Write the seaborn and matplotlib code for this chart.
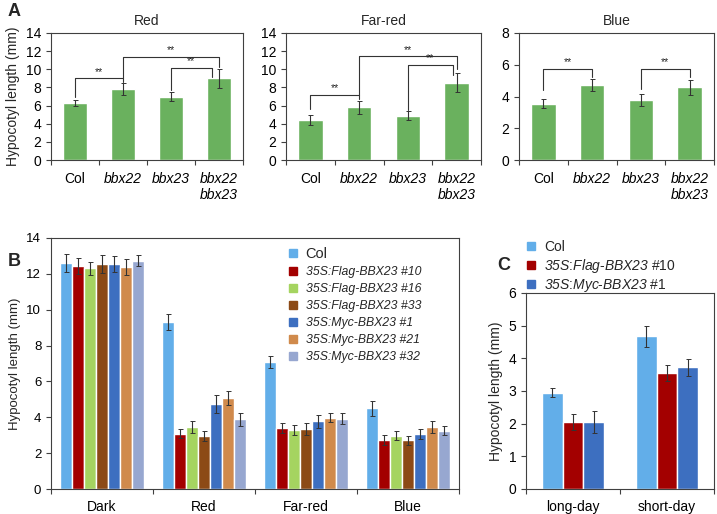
import numpy as np
import pandas as pd
import seaborn as sns
import matplotlib.pyplot as plt
from matplotlib.lines import Line2D

sns.set_style("ticks")
plt.rcParams["font.family"] = ["Liberation Sans", "DejaVu Sans"]
plt.rcParams["mathtext.fontset"] = "custom"
plt.rcParams["mathtext.it"] = "Liberation Sans:italic"
plt.rcParams["mathtext.rm"] = "Liberation Sans:italic"
plt.rcParams["axes.edgecolor"] = "#404040"
plt.rcParams["xtick.color"] = "#404040"
plt.rcParams["ytick.color"] = "#404040"
plt.rcParams["xtick.labelcolor"] = "black"
plt.rcParams["ytick.labelcolor"] = "black"

# ---- panel A data
genotypes = ["Col", "bbx22", "bbx23", "bbx22\nbbx23"]
red_len = [6.3, 7.8, 7.0, 9.0]
red_err = [0.35, 0.65, 0.5, 1.05]
farred_len = [4.45, 5.8, 4.9, 8.5]
farred_err = [0.55, 0.7, 0.45, 1.05]
blue_len = [3.55, 4.73, 3.78, 4.58]
blue_err = [0.3, 0.37, 0.35, 0.48]
# significance brackets: (x left, x right, top, left leg end, right leg end)
red_sig = [(0, 1, 9.0, 6.9, 8.6), (1, 3, 11.4, 9.0, 10.2), (2, 2.85, 10.15, 7.7, 9.1)]
farred_sig = [(0, 1, 7.2, 5.6, 6.7), (1, 3, 11.45, 7.2, 10.0), (2, 2.92, 10.5, 5.5, 9.35)]
blue_sig = [(0, 1, 5.76, 4.4, 5.2), (2, 3, 5.76, 4.45, 5.2)]

# ---- panel B data
conditions = ["Dark", "Red", "Far-red", "Blue"]
b_lines = ["Col", "35S:Flag-BBX23 #10", "35S:Flag-BBX23 #16", "35S:Flag-BBX23 #33",
           "35S:Myc-BBX23 #1", "35S:Myc-BBX23 #21", "35S:Myc-BBX23 #32"]
b_colors = ["#62AEE9", "#A30000", "#A5D460", "#8C4A16", "#3D6FC0", "#D08A4C", "#97A7D0"]
b_len = [
    [12.6, 9.32, 7.1, 4.51],
    [12.42, 3.09, 3.4, 2.72],
    [12.3, 3.46, 3.27, 2.98],
    [12.57, 2.94, 3.35, 2.72],
    [12.57, 4.75, 3.77, 3.05],
    [12.37, 5.08, 3.97, 3.46],
    [12.73, 3.88, 3.92, 3.25],
]
b_err = [
    [0.5, 0.43, 0.33, 0.42],
    [0.45, 0.26, 0.3, 0.28],
    [0.35, 0.33, 0.28, 0.24],
    [0.5, 0.27, 0.34, 0.24],
    [0.45, 0.5, 0.34, 0.28],
    [0.45, 0.4, 0.25, 0.32],
    [0.3, 0.38, 0.3, 0.26],
]

# ---- panel C data
photoperiods = ["long-day", "short-day"]
c_lines = ["Col", "35S:Flag-BBX23 #10", "35S:Myc-BBX23 #1"]
c_colors = ["#62AEE9", "#A30000", "#3D6FC0"]
c_len = [[2.95, 4.67], [2.05, 3.56], [2.05, 3.72]]
c_err = [[0.14, 0.33], [0.25, 0.24], [0.34, 0.27]]

green = "#6AB15E"
W, H = 717, 514
fig = plt.figure(figsize=(W / 100, H / 100), dpi=100)


def px_axes(left, top, right, bottom):
    return fig.add_axes([left / W, 1 - bottom / H, (right - left) / W, (bottom - top) / H])


def cat_ticks(ax, labels, n, fs=10, pad=7.5):
    ax.set_xlim(-0.5, n - 0.5)
    ax.set_xticks(np.arange(-0.5, n, 1))
    ax.set_xticklabels([""] * (n + 1))
    ax.set_xticks(range(n), labels, minor=True)
    ax.tick_params(axis="x", which="major", direction="out", length=3.5, width=0.8)
    ax.tick_params(axis="x", which="minor", length=0, labelsize=fs, pad=pad)
    ax.tick_params(axis="y", direction="out", length=3.5, width=0.8, labelsize=fs)
    ax.set_xlabel("")


def add_errbars(ax, errs):
    for cont, err in zip(ax.containers, errs):
        xs = [b.get_x() + b.get_width() / 2 for b in cont]
        hs = [b.get_height() for b in cont]
        ax.errorbar(xs, hs, yerr=err, fmt="none", ecolor="#333333",
                    elinewidth=0.8, capsize=1.8, capthick=0.7)


def panel_a(ax, vals, errs, sig, title, ymax, step):
    sns.barplot(x=genotypes, y=vals, color=green, saturation=1, width=0.5,
                errorbar=None, ax=ax)
    add_errbars(ax, [errs])
    for x1, x2, top, y1, y2 in sig:
        ax.plot([x1, x1, x2, x2], [y1, top, top, y2], color="#333333", lw=0.8)
        ax.text((x1 + x2) / 2, top + ymax * 0.012, "**", ha="center", va="bottom",
                fontsize=7.5)
    ax.set_ylim(0, ymax)
    ax.set_yticks(np.arange(0, ymax + 0.1, step))
    cat_ticks(ax, genotypes, 4, pad=8.5)
    for lab in ax.get_xticklabels(minor=True):
        if lab.get_text() != "Col":
            lab.set_fontstyle("italic")
    ax.set_title(title, fontsize=10, pad=6)


ax_r = px_axes(51, 33, 243, 160)
panel_a(ax_r, red_len, red_err, red_sig, "Red", 14, 2)
ax_r.set_ylabel("Hypocotyl length (mm)", fontsize=10)
ax_fr = px_axes(286, 33, 481, 160)
panel_a(ax_fr, farred_len, farred_err, farred_sig, "Far-red", 14, 2)
ax_bl = px_axes(519, 33, 714, 160)
panel_a(ax_bl, blue_len, blue_err, blue_sig, "Blue", 8, 2)

# ---- panel B
df_b = pd.DataFrame({
    "condition": [c for _ in b_lines for c in conditions],
    "line": [l for l in b_lines for _ in conditions],
    "length": [v for row in b_len for v in row],
})
ax_b = px_axes(51, 238, 459, 489)
sns.barplot(data=df_b, x="condition", y="length", hue="line", hue_order=b_lines,
            palette=b_colors, saturation=1, width=0.82, errorbar=None,
            legend=False, ax=ax_b)
add_errbars(ax_b, b_err)
ax_b.set_ylim(0, 14)
ax_b.set_yticks(range(0, 15, 2))
cat_ticks(ax_b, conditions, 4, pad=8)
ax_b.tick_params(axis="y", labelsize=9.5)
ax_b.set_ylabel("Hypocotyl length (mm)", fontsize=9.5)
handles = [Line2D([], [], marker="s", ls="", color=c, markersize=5.5) for c in b_colors]
leg = ax_b.legend(handles, b_lines, loc="upper left", bbox_to_anchor=(0.57, 0.985),
                  frameon=False, fontsize=8.8, handlelength=0.8, handletextpad=0.6,
                  labelspacing=0.42, borderaxespad=0)
for i, t in enumerate(leg.get_texts()):
    if i == 0:
        t.set_fontsize(10.5)
    else:
        t.set_fontstyle("italic")

# ---- panel C
df_c = pd.DataFrame({
    "period": [p for _ in c_lines for p in photoperiods],
    "line": [l for l in c_lines for _ in photoperiods],
    "length": [v for row in c_len for v in row],
})
ax_c = px_axes(526, 293, 714, 489)
sns.barplot(data=df_c, x="period", y="length", hue="line", hue_order=c_lines,
            palette=c_colors, saturation=1, width=0.66, errorbar=None,
            legend=False, ax=ax_c)
add_errbars(ax_c, c_err)
ax_c.set_ylim(0, 6)
ax_c.set_yticks(range(0, 7))
cat_ticks(ax_c, photoperiods, 2, pad=8)
ax_c.set_ylabel("Hypocotyl length (mm)", fontsize=10)
c_labels = ["Col",
            r"$\mathit{35S}$:$\mathit{Flag}$-$\mathit{BBX23}$ #10",
            r"$\mathit{35S}$:$\mathit{Myc}$-$\mathit{BBX23}$ #1"]
handles_c = [Line2D([], [], marker="s", ls="", color=c, markersize=6) for c in c_colors]
ax_c.legend(handles_c, c_labels, loc="upper left", bbox_to_anchor=(-0.03, 1.3),
            frameon=False, fontsize=10, handlelength=0.8, handletextpad=0.5,
            labelspacing=0.2, borderaxespad=0)

# panel letters
for s, x, y in [("A", 8, 12), ("B", 8, 262), ("C", 497, 265)]:
    fig.text(x / W, 1 - y / H, s, fontsize=13, fontweight="bold", va="center", ha="left")

fig.savefig("out.png", dpi=100)
